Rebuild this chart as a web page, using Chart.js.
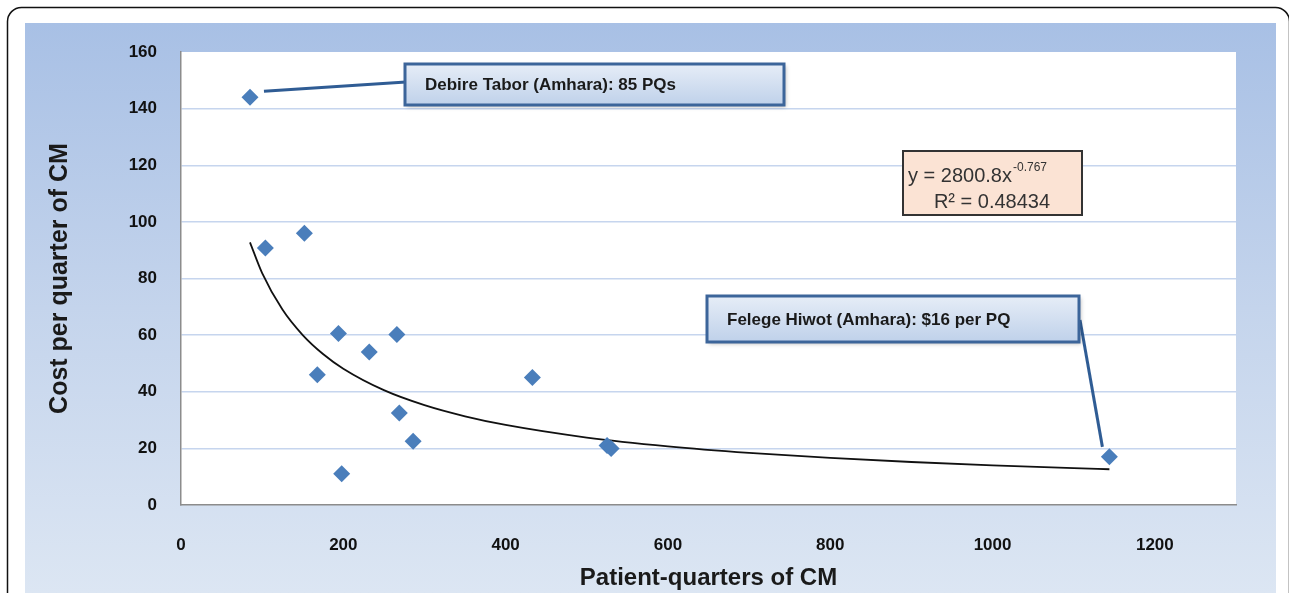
<!DOCTYPE html>
<html>
  <head>
    <title>Cost per quarter of CM</title>
    <script src="https://cdn.jsdelivr.net/npm/chart.js@4/dist/chart.umd.min.js"></script>
    <style>
      body { margin: 0; background: #fff; }
      #wrap { width: 1289px; height: 593px; }
    </style>
  </head>
  <body>
    <div id="wrap"><canvas id="canvas" width="1289" height="593"></canvas></div>
    <script>
      // patient-quarters (x) and cost per quarter (y)
      const patientQuarters = [85, 104, 152, 194, 168, 232, 266, 269, 286, 198, 433, 525, 530, 1144];
      const costPerQuarter = [144, 90.8, 96, 60.6, 46, 54, 60.2, 32.5, 22.5, 11, 45, 21, 20, 17];
      const xTicks = [0, 200, 400, 600, 800, 1000, 1200];
      const yTicks = [0, 20, 40, 60, 80, 100, 120, 140, 160];
      // power trendline as printed on the chart
      const trendA = 2800.8;
      const trendB = -0.767;
      const trendR2 = 0.48434;
      const trendXs = [85, 100, 125, 150, 175, 200, 250, 300, 350, 400, 500, 600, 700, 800, 900, 1000, 1100, 1144];

      const points = patientQuarters.map((x, i) => ({ x: x, y: costPerQuarter[i] }));
      const trend = trendXs.map(x => ({ x: x, y: trendA * Math.pow(x, trendB) }));

      const BLUE = '#4a7ebb';
      const FONT = '"Liberation Sans", Arial, sans-serif';

      function labelBox(ctx, x, y, w, h, text) {
        ctx.save();
        ctx.shadowColor = 'rgba(0,0,0,0.25)';
        ctx.shadowBlur = 4;
        ctx.shadowOffsetX = 2;
        ctx.shadowOffsetY = 2;
        const g = ctx.createLinearGradient(0, y, 0, y + h);
        g.addColorStop(0, '#e6edf7');
        g.addColorStop(1, '#bfd1ea');
        ctx.fillStyle = g;
        ctx.fillRect(x, y, w, h);
        ctx.restore();
        ctx.strokeStyle = '#3c659a';
        ctx.lineWidth = 3;
        ctx.strokeRect(x, y, w, h);
        ctx.fillStyle = '#1a1a1a';
        ctx.font = 'bold 17px ' + FONT;
        ctx.textBaseline = 'middle';
        ctx.fillText(text, x + 20, y + h / 2 + 1);
      }

      const decor = {
        id: 'decor',
        beforeDraw(chart) {
          const ctx = chart.ctx;
          const a = chart.chartArea;
          ctx.save();
          // outer frame
          ctx.fillStyle = '#fff';
          ctx.fillRect(0, 0, chart.width, chart.height);
          ctx.strokeStyle = '#111';
          ctx.lineWidth = 1.5;
          ctx.beginPath();
          ctx.roundRect(7.5, 7.5, 1282, 640, 14);
          ctx.stroke();
          // gradient panel
          const g = ctx.createLinearGradient(0, 23, 0, 593);
          g.addColorStop(0, '#a8c0e5');
          g.addColorStop(0.5, '#c4d4ec');
          g.addColorStop(1, '#dce6f3');
          ctx.fillStyle = g;
          ctx.fillRect(25, 23, 1251, 580);
          // plot area
          ctx.fillStyle = '#fff';
          ctx.fillRect(a.left, a.top, a.right - a.left, a.bottom - a.top);
          ctx.restore();
        },
        afterDraw(chart) {
          const ctx = chart.ctx;
          const xs = chart.scales.x, ys = chart.scales.y;
          ctx.save();
          // leader lines
          ctx.strokeStyle = '#2f5c94';
          ctx.lineWidth = 3;
          ctx.beginPath();
          ctx.moveTo(xs.getPixelForValue(85) + 14, ys.getPixelForValue(144) - 6);
          ctx.lineTo(406, 82);
          ctx.stroke();
          ctx.beginPath();
          ctx.moveTo(1080, 320);
          ctx.lineTo(xs.getPixelForValue(1144) - 7, ys.getPixelForValue(17) - 10);
          ctx.stroke();
          labelBox(ctx, 405, 64, 379, 41, 'Debire Tabor (Amhara): 85 PQs');
          labelBox(ctx, 707, 296, 372, 46, 'Felege Hiwot (Amhara): $16 per PQ');
          // trendline equation box
          ctx.fillStyle = '#fbe3d4';
          ctx.fillRect(903, 151, 179, 64);
          ctx.strokeStyle = '#333';
          ctx.lineWidth = 2;
          ctx.strokeRect(903, 151, 179, 64);
          ctx.fillStyle = '#333';
          ctx.textBaseline = 'alphabetic';
          ctx.font = '20px ' + FONT;
          const main = 'y = ' + trendA + 'x';
          ctx.fillText(main, 908, 182);
          const mw = ctx.measureText(main).width;
          ctx.font = '12px ' + FONT;
          ctx.fillText(String(trendB), 908 + mw + 1, 171);
          ctx.font = '20px ' + FONT;
          ctx.textAlign = 'center';
          ctx.fillText('R² = ' + trendR2, 992, 208);
          ctx.restore();
        }
      };

      const tickFont = { family: FONT, size: 17, weight: 'bold' };

      new Chart(document.getElementById('canvas').getContext('2d'), {
        type: 'scatter',
        data: {
          datasets: [
            {
              label: 'Cost per quarter',
              data: points,
              pointStyle: 'rectRot',
              pointRadius: 8.5,
              pointHoverRadius: 8.5,
              backgroundColor: BLUE,
              borderColor: BLUE,
              borderWidth: 0,
              order: 1
            },
            {
              label: 'Power trend',
              type: 'line',
              data: trend,
              borderColor: '#111',
              borderWidth: 1.8,
              pointRadius: 0,
              cubicInterpolationMode: 'monotone',
              fill: false,
              order: 2
            }
          ]
        },
        options: {
          responsive: false,
          animation: false,
          events: [],
          layout: { padding: { left: 38, right: 53, top: 52, bottom: 0 } },
          plugins: { legend: { display: false }, tooltip: { enabled: false } },
          scales: {
            x: {
              type: 'linear',
              min: 0,
              max: 1300,
              afterFit: s => { s.height = 88; },
              afterBuildTicks: s => { s.ticks = xTicks.map(v => ({ value: v })); },
              grid: { display: false, drawTicks: false },
              border: { color: '#8c8c8c', width: 1.5 },
              ticks: { font: tickFont, color: '#111', padding: 30, maxRotation: 0, callback: v => String(v) },
              title: { display: true, text: 'Patient-quarters of CM', font: { family: FONT, size: 24, weight: 'bold' }, color: '#1a1a1a', padding: { top: 0, bottom: 0 } }
            },
            y: {
              min: 0,
              max: 160,
              afterFit: s => { s.width = 143; },
              afterBuildTicks: s => { s.ticks = yTicks.map(v => ({ value: v })); },
              grid: {
                drawTicks: false,
                color: c => (c.tick.value === 0 || c.tick.value === 160) ? 'rgba(0,0,0,0)' : '#c6d5ee',
                lineWidth: 1.5
              },
              border: { color: '#8c8c8c', width: 1.5 },
              ticks: { font: tickFont, color: '#111', padding: 24 },
              title: { display: true, text: 'Cost per quarter of CM', font: { family: FONT, size: 25, weight: 'bold' }, color: '#1a1a1a', padding: { top: 7, bottom: 0 } }
            }
          }
        },
        plugins: [decor]
      });
    </script>
  </body>
</html>
